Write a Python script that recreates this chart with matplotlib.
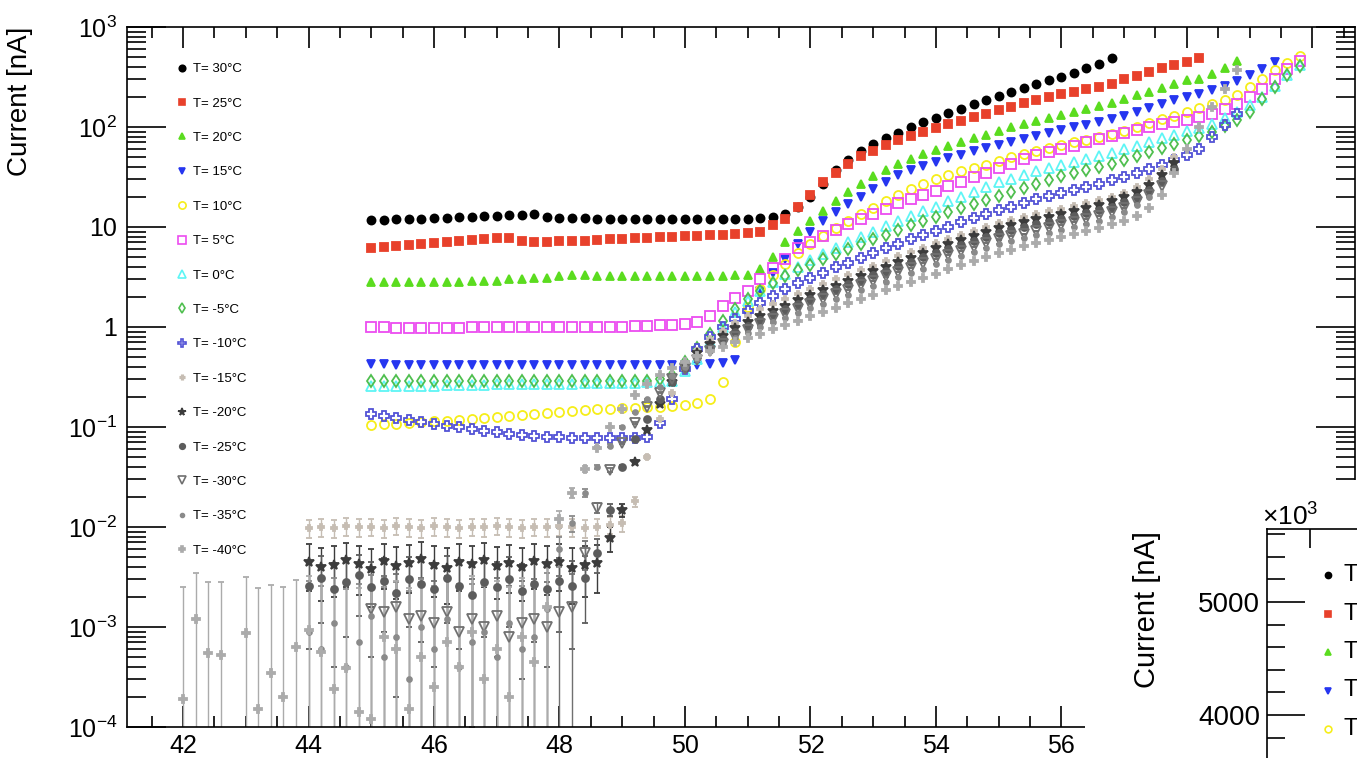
import numpy as np
import matplotlib
matplotlib.use('Agg')
import matplotlib.pyplot as plt
from matplotlib.lines import Line2D
from matplotlib.patches import Rectangle
from matplotlib.ticker import FixedLocator, LogLocator, MultipleLocator, NullFormatter

plt.rcParams['font.family'] = ['Liberation Sans', 'DejaVu Sans']
plt.rcParams['mathtext.fontset'] = 'custom'
plt.rcParams['mathtext.rm'] = 'Liberation Sans'
plt.rcParams['mathtext.it'] = 'Liberation Sans:italic'
plt.rcParams['mathtext.bf'] = 'Liberation Sans:bold'

W, H = 1357, 758
STEP = 0.2  # bias voltage step of the scan [V]

# ---- data: current [nA] per temperature, one value every 0.2 V from the start voltage ----
start_30, cur_30 = 45.0, [
    11.7, 11.8, 11.9, 12.0, 12.1, 12.2, 12.3, 12.5, 12.6, 12.8, 12.9, 13.1, 13.3, 13.6, 12.6, 12.3, 12.2,
    12.2, 12.1, 12.1, 12.0, 12.0, 12.0, 12.0, 12.0, 12.0, 12.0, 12.0, 12.0, 12.1, 12.1, 12.2, 12.5,
    13.5, 16, 20, 27, 37, 47, 57, 67, 77, 88, 99, 111, 124, 138, 153, 170, 187, 205, 225, 245, 268,
    292, 318, 350, 385, 430, 490]
start_25, cur_25 = 45.0, [
    6.2, 6.3, 6.5, 6.6, 6.8, 6.9, 7.1, 7.2, 7.4, 7.5, 7.7, 7.8, 7.3, 7.1, 7.1, 7.2, 7.2, 7.3, 7.4, 7.5,
    7.6, 7.7, 7.8, 7.9, 8.0, 8.1, 8.2, 8.3, 8.4, 8.6, 8.7, 8.9, 10.5, 12, 16, 21, 28, 35, 43, 51, 58,
    66, 74, 82, 90, 98, 107, 116, 126, 136, 147, 159, 172, 185, 199, 212, 225, 239, 253, 270, 300,
    325, 355, 385, 415, 450, 490]
start_20, cur_20 = 45.0, [
    2.8, 2.8, 2.8, 2.8, 2.8, 2.8, 2.8, 2.8, 2.9, 2.9, 2.9, 3.0, 3.0, 3.1, 3.1, 3.2, 3.3, 3.3, 3.2, 3.2,
    3.2, 3.2, 3.2, 3.2, 3.2, 3.2, 3.2, 3.2, 3.2, 3.3, 3.3, 3.8, 5.0, 7.0, 9.2, 11.5, 14.5, 18, 22.5,
    27, 32, 37, 43, 48, 54, 59, 65, 71, 77, 84, 92, 100, 107, 114, 122, 131, 140, 150, 162, 175, 190,
    207, 225, 245, 268, 295, 300, 340, 390, 460]
start_15, cur_15 = 45.0, [
    0.43, 0.43, 0.42, 0.42, 0.42, 0.42, 0.42, 0.42, 0.42, 0.42, 0.42, 0.42, 0.42, 0.42, 0.42, 0.42,
    0.42, 0.42, 0.42, 0.42, 0.42, 0.42, 0.42, 0.42, 0.42, 0.42, 0.42, 0.43, 0.44, 0.47, 1.3, 2.3, 3.5,
    4.8, 6.8, 9.0, 11.5, 14, 17, 20, 24, 28, 33, 37, 41, 45, 49, 53, 57, 61, 66, 71, 76, 81, 87, 93,
    99, 105, 112, 120, 130, 142, 155, 170, 185, 200, 215, 235, 260, 290, 330, 380, 450]
start_10, cur_10 = 45.0, [
    0.105, 0.106, 0.108, 0.110, 0.112, 0.114, 0.116, 0.118, 0.121, 0.124, 0.127, 0.130, 0.133, 0.136,
    0.139, 0.142, 0.145, 0.148, 0.150, 0.152, 0.154, 0.156, 0.158, 0.160, 0.162, 0.165, 0.172, 0.19,
    0.28, 0.7, 1.6, 2.4, 3.3, 4.3, 5.5, 6.8, 8.2, 9.8, 11.5, 13.5, 15.5, 18, 21, 24, 27, 30, 33, 36,
    39, 42, 46, 50, 54, 58, 62, 66, 70, 74, 79, 85, 92, 100, 110, 120, 130, 142, 155, 170, 188, 210,
    250, 300, 370, 440, 510]
start_5, cur_5 = 45.0, [
    1.0, 1.0, 0.98, 0.98, 0.98, 0.98, 0.98, 0.98, 0.99, 0.99, 0.99, 0.99, 1.0, 1.0, 1.0, 1.0, 1.0, 1.0,
    1.0, 1.0, 1.01, 1.02, 1.03, 1.04, 1.05, 1.06, 1.12, 1.28, 1.62, 1.95, 2.3, 3.0, 3.9, 4.8, 6.1, 7.1,
    8.2, 9.4, 10.6, 12.0, 13.5, 15.2, 17.2, 19, 21, 23, 25.5, 28.5, 31.5, 35, 39, 43, 48, 52, 56, 60,
    65, 70, 76, 82, 88, 94, 100, 106, 112, 118, 125, 136, 150, 170, 200, 240, 300, 380, 460]
start_0, cur_0 = 45.0, [
    0.26, 0.26, 0.26, 0.26, 0.26, 0.26, 0.265, 0.265, 0.265, 0.265, 0.27, 0.27, 0.27, 0.27, 0.27, 0.27,
    0.27, 0.275, 0.275, 0.275, 0.275, 0.275, 0.28, 0.28, 0.29, 0.36, 0.48, 0.7, 1.0, 1.4, 1.8, 2.3,
    2.8, 3.4, 4.0, 4.7, 5.4, 6.2, 7.0, 8.0, 9.0, 10.2, 11.6, 13, 14.5, 16, 18, 20, 22.5, 25, 28, 30.5,
    33, 36, 39, 42, 45, 48, 51, 55, 60, 65, 71, 77, 84, 91, 98, 108, 122, 140, 165, 200, 255, 330, 415]
start_m5, cur_m5 = 45.0, [
    0.29, 0.29, 0.29, 0.29, 0.29, 0.29, 0.29, 0.29, 0.29, 0.29, 0.29, 0.29, 0.29, 0.29, 0.29, 0.29,
    0.29, 0.29, 0.29, 0.29, 0.29, 0.29, 0.29, 0.30, 0.33, 0.45, 0.62, 0.85, 1.15, 1.5, 1.9, 2.3, 2.75,
    3.2, 3.7, 4.2, 4.8, 5.4, 6.0, 6.7, 7.5, 8.4, 9.4, 10.4, 11.5, 12.7, 14, 15.5, 17, 18.7, 20.5, 22.5,
    24.5, 27, 29.5, 32, 34.5, 37, 40, 43, 47, 51, 56, 62, 68, 74, 81, 90, 102, 118, 140, 190, 250, 330,
    410]
start_m10, cur_m10 = 45.0, [
    0.135, 0.128, 0.122, 0.117, 0.112, 0.107, 0.103, 0.099, 0.095, 0.092, 0.089, 0.086, 0.084, 0.082,
    0.080, 0.079, 0.078, 0.078, 0.078, 0.078, 0.078, 0.078, 0.080, 0.11, 0.19, 0.38, 0.6, 0.8, 1.0,
    1.2, 1.45, 1.75, 2.05, 2.4, 2.75, 3.1, 3.5, 3.95, 4.4, 4.9, 5.5, 6.1, 6.8, 7.5, 8.3, 9.2, 10.1,
    11.1, 12.2, 13.4, 14.7, 16.0, 17.4, 18.9, 20.4, 22, 23.7, 25.4, 27.2, 29.2, 31.5, 34.5, 38, 42, 47,
    53, 60, 80, 105, 135]
start_m15, cur_m15 = 44.0, [
    0.0098, 0.0100, 0.0097, 0.0102, 0.0099, 0.0101, 0.0097, 0.0103, 0.0100, 0.0098, 0.0102, 0.0100,
    0.0097, 0.0101, 0.0099, 0.0103, 0.0100, 0.0098, 0.0101, 0.0099, 0.0102, 0.0100, 0.0098, 0.0101,
    0.0105, 0.011, 0.018, 0.05, 0.12, 0.22, 0.38, 0.58, 0.75, 0.92, 1.1, 1.3, 1.5, 1.7, 1.92, 2.15, 2.4,
    2.7, 3.0, 3.3, 3.7, 4.1, 4.6, 5.1, 5.6, 6.2, 6.9, 7.6, 8.3, 9.1, 10.0, 11.0, 11.8, 12.6, 13.4, 14.3,
    15.2, 16.2, 17.3, 18.5, 20, 22, 25, 30, 38, 50]
start_m20, cur_m20 = 44.0, [
    0.0045, 0.0040, 0.0042, 0.0047, 0.0043, 0.0038, 0.0046, 0.0041, 0.0044, 0.0048, 0.0042, 0.0039,
    0.0045, 0.0043, 0.0047, 0.0041, 0.0044, 0.0040, 0.0046, 0.0043, 0.0045, 0.0039, 0.0042, 0.0044,
    0.0078, 0.0148, 0.045, 0.093, 0.17, 0.28, 0.42, 0.55, 0.68, 0.82, 0.97, 1.12, 1.28, 1.45, 1.63,
    1.85, 2.1, 2.35, 2.6, 2.9, 3.25, 3.6, 4.0, 4.45, 4.95, 5.5, 6.1, 6.7, 7.4, 8.1, 8.9, 9.7, 10.4,
    11.1, 11.9, 12.7, 13.6, 14.5, 15.5, 16.6, 18, 19.8, 22.5, 26.5, 33, 44]
start_m25, cur_m25 = 44.0, [
    0.0026, 0.0031, 0.0024, 0.0028, 0.0033, 0.0025, 0.0029, 0.0022, 0.0030, 0.0027, 0.0024, 0.0031,
    0.0026, 0.0021, 0.0028, 0.0025, 0.0030, 0.0023, 0.0027, 0.0024, 0.0029, 0.0026, 0.0031, 0.0055,
    0.0148, 0.04, 0.075, 0.12, 0.19, 0.28, 0.39, 0.5, 0.62, 0.75, 0.89, 1.03, 1.18, 1.34, 1.5, 1.7,
    1.92, 2.15, 2.4, 2.67, 2.97, 3.3, 3.65, 4.05, 4.5, 5.0, 5.5, 6.05, 6.65, 7.3, 8.0, 8.7, 9.3, 9.95,
    10.6, 11.3, 12.1, 12.9, 13.8, 14.8, 16, 17.6, 20, 23.5, 29, 38]
start_m30, cur_m30 = 45.0, [
    0.0015, 0.0014, 0.0016, 0.0012, 0.0013, 0.0011, 0.0014, 0.0009, 0.0012, 0.0010, 0.0013, 0.0008,
    0.0011, 0.0012, 0.0010, 0.0014, 0.0016, 0.0055, 0.0155, 0.037, 0.069, 0.11, 0.16, 0.22, 0.3, 0.38,
    0.47, 0.57, 0.68, 0.8, 0.93, 1.06, 1.2, 1.35, 1.52, 1.7, 1.9, 2.12, 2.36, 2.62, 2.9, 3.2, 3.55,
    3.92, 4.33, 4.78, 5.25, 5.75, 6.3, 6.9, 7.5, 8.05, 8.6, 9.2, 9.8, 10.5, 11.2, 12, 12.9, 14, 15.5,
    17.8, 21, 26]
start_m35, cur_m35 = 44.0, [
    0.0009, 0.0006, 0.0011, 0.0004, 0.0007, 0.0013, 0.0005, 0.0008, 0.0003, 0.0010, 0.0006, 0.0012,
    0.0004, 0.0007, 0.0009, 0.0005, 0.0011, 0.0006, 0.0008, 0.0015, 0.006, 0.011, 0.022, 0.04, 0.065,
    0.1, 0.14, 0.19, 0.25, 0.32, 0.4, 0.48, 0.57, 0.67, 0.78, 0.88, 0.99, 1.11, 1.24, 1.38, 1.54, 1.71,
    1.9, 2.1, 2.33, 2.58, 2.85, 3.15, 3.48, 3.84, 4.24, 4.66, 5.1, 5.6, 6.1, 6.7, 7.2, 7.7, 8.25, 8.8,
    9.4, 10.1, 10.8, 11.6, 12.6, 14, 16.5, 20]
start_m40, cur_m40 = 42.0, [
    0.00019, 0.0012, 0.00055, 0.00052, np.nan, 0.00087, 0.00015, 0.00035, 0.0002, 0.00063, 0.00093,
    0.00056, 0.00024, 0.00039, 0.00014, 0.00012, 0.0008, 0.0006, 0.00015, 0.0005, 0.00025, 0.0007,
    0.0004, 0.0009, 0.0003, 0.0006, 0.0002, 0.0008, 0.00045, 0.0016, 0.012, 0.022, 0.038, 0.062, 0.1,
    0.15, 0.21, 0.27, 0.33, 0.39, 0.45, 0.51, 0.57, 0.63, 0.7, 0.78, 0.86, 0.95, 1.05, 1.16, 1.28,
    1.41, 1.56, 1.72, 1.9, 2.1, 2.32, 2.56, 2.82, 3.1, 3.42, 3.76, 4.13, 4.54, 5.0, 5.5, 5.95, 6.4,
    6.9, 7.4, 7.95, 8.5, 9.1, 9.8, 10.6, 11.6, 13, 15.5, 21, 35, 60, 100, 160, 240, 370]

# absolute current uncertainty [nA] of the cold runs
err_m15, err_m20, err_m25, err_m30, err_m35, err_m40 = 0.002, 0.0022, 0.002, 0.0018, 0.002, 0.0023

labels = ['T= 30°C', 'T= 25°C', 'T= 20°C', 'T= 15°C', 'T= 10°C', 'T= 5°C', 'T= 0°C', 'T= -5°C',
          'T= -10°C', 'T= -15°C', 'T= -20°C', 'T= -25°C', 'T= -30°C', 'T= -35°C', 'T= -40°C']

# inset panel (second plot peeking in at the corner, only its first letters are visible)
inset_labels = ['T', 'T', 'T', 'T', 'T']
inset_yticks = [4000, 5000]

runs = [
    (start_30, cur_30, None), (start_25, cur_25, None), (start_20, cur_20, None),
    (start_15, cur_15, None), (start_10, cur_10, None), (start_5, cur_5, None),
    (start_0, cur_0, None), (start_m5, cur_m5, None), (start_m10, cur_m10, None),
    (start_m15, cur_m15, err_m15), (start_m20, cur_m20, err_m20), (start_m25, cur_m25, err_m25),
    (start_m30, cur_m30, err_m30), (start_m35, cur_m35, err_m35), (start_m40, cur_m40, err_m40),
]

# marker styles: (marker, colour, filled, size)
styles = [
    ('o', '#000000', True, 5.8), ('s', '#e8412b', True, 6.2), ('^', '#5bdc1f', True, 6.2),
    ('v', '#2636f0', True, 6.2), ('o', '#f6ee1a', False, 6.5), ('s', '#ec4cf0', False, 6.5),
    ('^', '#5ef5f5', False, 6.5), ('d', '#4fbf4f', False, 6.0), ('P', '#5353d6', False, 6.5),
    ('P', '#c6bdb3', True, 4.0), ('*', '#3c3c3c', True, 7.0), ('o', '#5c5c5c', True, 5.0),
    ('v', '#707070', False, 6.5), ('o', '#8a8a8a', True, 3.5), ('P', '#ababab', True, 5.5),
]


def fx(px):
    return px / W


def fy(py):
    return 1 - py / H


fig = plt.figure(figsize=(W / 100, H / 100), dpi=100)
fig.patch.set_facecolor('white')
ax = fig.add_axes([fx(127), fy(727), fx(1355) - fx(127), fy(27) - fy(727)])

for (x0, cur, err), (mk, col, filled, ms) in zip(runs, styles):
    y = np.array(cur, dtype=float)
    x = x0 + STEP * np.arange(len(y))
    kw = dict(ls='none', marker=mk, color=col, ms=ms, mec=col, mew=1.3,
              mfc=col if filled else 'none')
    if err is None:
        ax.plot(x, y, **kw)
    else:
        ax.errorbar(x, y, yerr=np.full(len(y), err), ecolor=col, elinewidth=1.0,
                    capsize=2, capthick=1.0, **kw)

ax.set_yscale('log', nonpositive='clip')
ax.set_xlim(41.107, 60.68)
ax.set_ylim(1e-4, 1e3)

yt = [1e-4, 1e-3, 1e-2, 1e-1, 1, 10, 1e2, 1e3]
ax.yaxis.set_major_locator(FixedLocator(yt))
ax.set_yticklabels([r'$10^{-4}$', r'$10^{-3}$', r'$10^{-2}$', r'$10^{-1}$', '1', '10',
                    r'$10^{2}$', r'$10^{3}$'], fontsize=18)
ax.yaxis.set_minor_locator(LogLocator(base=10, subs=np.arange(2, 10)))
ax.yaxis.set_minor_formatter(NullFormatter())
ax.xaxis.set_major_locator(MultipleLocator(2))
ax.xaxis.set_minor_locator(MultipleLocator(0.5))
ax.tick_params(axis='x', labelsize=18)
ax.tick_params(which='both', direction='in', top=True, right=True, width=1.2, color='black')
ax.tick_params(axis='y', which='major', length=28, pad=7)
ax.tick_params(axis='y', which='minor', length=14)
ax.tick_params(axis='x', which='major', length=15, pad=5)
ax.tick_params(axis='x', which='minor', length=8)
for sp in ax.spines.values():
    sp.set_linewidth(1.2)

fig.text(fx(20), fy(27), 'Current [nA]', rotation=90, ha='center', va='top', fontsize=20)

handles = [Line2D([], [], ls='none', marker=mk, color=col, mec=col, mew=1.2,
                  mfc=col if filled else 'none', ms=ms * 0.8)
           for mk, col, filled, ms in styles]
ax.legend(handles, labels, loc='upper left', bbox_to_anchor=(fx(177), fy(63)),
          bbox_transform=fig.transFigure, frameon=False, fontsize=9.5, handlelength=0.7,
          handletextpad=0.5, labelspacing=1.68, borderpad=0, borderaxespad=0)

# white area of the neighbouring canvas covering the lower right corner
fig.add_artist(Rectangle((fx(1085), 0), 1 - fx(1085), fy(480), transform=fig.transFigure,
                         facecolor='white', edgecolor='none', zorder=2))

ax2 = fig.add_axes([fx(1267), fy(1000), fx(2300) - fx(1267), fy(529) - fy(1000)], zorder=3)
ax2.set_facecolor('white')
ax2.set_xlim(0, 1)
ax2.set_ylim(1478, 5646)
ax2.yaxis.set_major_locator(FixedLocator(inset_yticks))
ax2.set_yticklabels([str(v) for v in inset_yticks], fontsize=20)
ax2.yaxis.set_minor_locator(MultipleLocator(200))
ax2.xaxis.tick_top()
ax2.xaxis.set_major_locator(FixedLocator([(1310 - 1267) / (2300 - 1267)]))
ax2.xaxis.set_minor_locator(FixedLocator([]))
ax2.set_xticklabels([])
ax2.tick_params(which='both', direction='in', width=1.2)
ax2.tick_params(axis='y', which='major', length=27, pad=5)
ax2.tick_params(axis='y', which='minor', length=13)
ax2.tick_params(axis='x', which='major', length=14)
for sp in ax2.spines.values():
    sp.set_linewidth(1.2)

fig.text(fx(1262), fy(531), r'$\times10^{3}$', ha='left', va='bottom', fontsize=19, zorder=4)
fig.text(fx(1147), fy(610), 'Current [nA]', rotation=90, ha='center', va='center',
         fontsize=21, zorder=4)

for i, lab in enumerate(inset_labels):
    mk, col, filled, ms = styles[i]
    yy = fy(575 + 38.5 * i)
    fig.add_artist(Line2D([fx(1328)], [yy], transform=fig.transFigure, ls='none', marker=mk,
                          color=col, mec=col, mfc=col if filled else 'none', mew=1.2,
                          ms=ms * 0.75, zorder=4))
    fig.text(fx(1343), yy, lab, ha='left', va='center', fontsize=17, zorder=4)

fig.savefig('out.png', dpi=100)
